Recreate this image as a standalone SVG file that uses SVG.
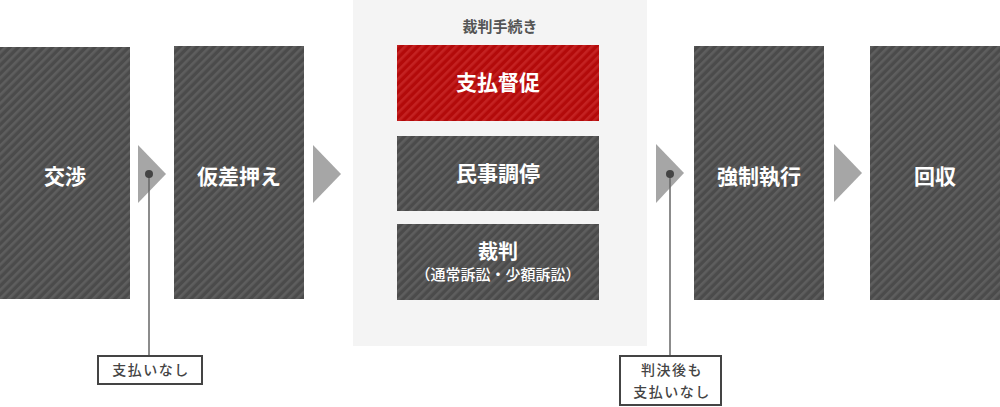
<svg xmlns="http://www.w3.org/2000/svg" width="1000" height="407" viewBox="0 0 1000 407">
<defs>
<pattern id="gs" patternUnits="userSpaceOnUse" width="6" height="6" patternTransform="rotate(45)">
<rect width="6" height="6" fill="#4b4b4b"/><rect width="2.6" height="6" fill="#5e5e5e"/>
</pattern>
<pattern id="rs" patternUnits="userSpaceOnUse" width="6" height="6" patternTransform="rotate(45)">
<rect width="6" height="6" fill="#b30a0a"/><rect width="2.6" height="6" fill="#c42222"/>
</pattern>
<style>
.box{fill:url(#gs)}
.red{fill:url(#rs)}
.lbl{font-family:"Noto Sans CJK JP","Noto Sans",sans-serif;font-weight:bold;fill:#fff;text-anchor:middle}
.big{font-size:21px}
.sub{font-size:15px;font-weight:500}
.arr{fill:#a6a6a6}
.note{fill:#fff;stroke:#444;stroke-width:2}
.nt{font-family:"Noto Sans CJK JP","Noto Sans",sans-serif;font-size:14px;font-weight:500;fill:#444;text-anchor:middle;letter-spacing:1.5px}
.ln{stroke:#666;stroke-width:1.5;fill:none}
</style>
</defs>
<rect width="1000" height="407" fill="#fff"/>
<rect id="panel" x="353" y="0" width="294" height="346" fill="#f4f4f4"/>
<text x="500" y="32" style="font-family:'Noto Sans CJK JP','Noto Sans',sans-serif;font-size:15px;font-weight:bold;fill:#555;text-anchor:middle">裁判手続き</text>

<g id="n-koshou"><rect class="box" x="0" y="47" width="130" height="252"/><text class="lbl big" x="65" y="184">交渉</text></g>
<g id="n-karisashiosae"><rect class="box" x="174" y="46" width="130" height="253"/><text class="lbl big" x="239" y="184">仮差押え</text></g>
<g id="n-shiharaitokusoku"><rect class="red" x="397" y="45" width="202" height="76"/><text class="lbl big" x="498" y="90">支払督促</text></g>
<g id="n-minjichoutei"><rect class="box" x="397" y="136" width="202" height="75"/><text class="lbl big" x="498" y="181">民事調停</text></g>
<g id="n-saiban"><rect class="box" x="397" y="224" width="202" height="76"/><text class="lbl" style="font-size:20px" x="498" y="259">裁判</text><text class="lbl sub" x="498" y="280">（通常訴訟・少額訴訟）</text></g>
<g id="n-kyouseishikkou"><rect class="box" x="694" y="46" width="130" height="254"/><text class="lbl big" x="759" y="184">強制執行</text></g>
<g id="n-kaishuu"><rect class="box" x="870" y="46" width="130" height="254"/><text class="lbl big" x="935" y="184">回収</text></g>

<g id="connectors">
<polygon class="arr" points="138,145 166,174 138,203"/>
<polygon class="arr" points="313,145 341,174 313,203"/>
<polygon class="arr" points="656,144 684,173 656,203"/>
<polygon class="arr" points="834,144 862,173 834,202"/>
<line class="ln" x1="149" y1="174" x2="149" y2="356"/>
<circle cx="149" cy="174" r="4" fill="#444"/>
<line class="ln" x1="670" y1="174" x2="670" y2="356"/>
<circle cx="670" cy="174" r="4" fill="#444"/>
</g>

<g id="note1"><rect class="note" x="98" y="356" width="104" height="28"/><text class="nt" x="151" y="375">支払いなし</text></g>
<g id="note2"><rect class="note" x="620" y="356" width="101" height="49"/><text class="nt" x="672" y="375">判決後も</text><text class="nt" x="672" y="397">支払いなし</text></g>
</svg>
